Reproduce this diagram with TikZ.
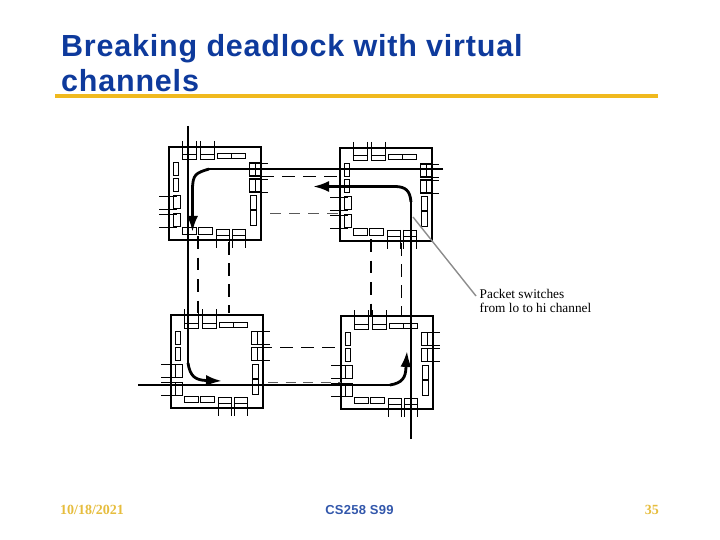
\documentclass[tikz,border=0pt]{standalone}
\usepackage{fontspec}
\setmainfont{Liberation Serif}
\setsansfont{Liberation Sans}
\usetikzlibrary{
    calc,
    arrows.meta
}
\definecolor{TitleBlue}{HTML}{0E3A9C}
\definecolor{RuleGold}{HTML}{F0B91E}
\definecolor{FootGold}{HTML}{E6BD3E}
\definecolor{LeaderGray}{HTML}{8C8C8C}

\tikzset{
    box/.style={draw=black, line width=1.05pt},
    buf/.style={draw=black, line width=1pt},
    wire/.style={draw=black, line width=0.9pt},
    channel/.style={draw=black, line width=2.3pt, line join=round},
    hop/.style={channel, line width=2.8pt, -{Latex[length=16pt,width=11pt]}},
    dashhi/.style={draw=black, line width=1.1pt, dash pattern=on 13pt off 8pt},
    dashlo/.style={draw=black!65, line width=0.9pt, dash pattern=on 11pt off 8pt},
    router/.pic={
        \path[box] (0,0) rectangle (92,93);
        % top side
        \foreach \x in {13,31}{
            \path[buf] (\x,8) rectangle (\x+14,13);
            \path[wire] (\x,-6) -- (\x,13) (\x+14,-6) -- (\x+14,13);
        }
        \path[buf] (48,7) rectangle (62,12) (62,7) rectangle (76,12);
        % right side
        \foreach \y in {16,32}{
            \path[buf] (80,\y) rectangle (92,\y+13);
            \path[wire] (86,\y) -- (86,\y+13);
            \path[wire] (80,\y) -- (99,\y) (80,\y+13) -- (99,\y+13);
        }
        \path[buf] (81,49) rectangle (87,63) (81,64) rectangle (87,79);
        % left side
        \path[buf] (4,16) rectangle (9,29) (4,32) rectangle (9,45);
        \foreach \y in {49,67}{
            \path[buf] (4,\y) rectangle (11,\y+13);
            \path[wire] (-10,\y) -- (8,\y) (-10,\y+13) -- (8,\y+13);
        }
        % bottom side
        \path[buf] (13,81) rectangle (27,87) (29,81) rectangle (43,87);
        \foreach \x in {47,63}{
            \path[wire] (\x,82) -- (\x+13,82) (\x,88) -- (\x+13,88);
            \path[wire] (\x,82) -- (\x,101) (\x+13,82) -- (\x+13,101);
        }
    }
}

\begin{document}
\begin{tikzpicture}[x=1pt, y=-1pt]

    \useasboundingbox (0,0) rectangle (720,540);

    % heading
    \node[anchor=base west, inner sep=0pt, text=TitleBlue,
          font=\sffamily\bfseries\fontsize{30.5}{35}\selectfont\addfontfeature{LetterSpace=2.6}]
        (heading) at (61,57) {Breaking deadlock with virtual};
    \node[anchor=base west, inner sep=0pt, text=TitleBlue,
          font=\sffamily\bfseries\fontsize{30.5}{35}\selectfont\addfontfeature{LetterSpace=2.6}]
        (headingb) at (61,92) {channels};
    \coordinate (ruleA) at (55,96);
    \coordinate (ruleB) at (658,96);
    \draw[RuleGold, line width=3.5pt] (ruleA) -- (ruleB);

    % routers
    \pic at (169,147) {router};
    \pic at (340,148) {router};
    \pic at (171,315) {router};
    \pic at (341,316) {router};

    % dashed links
    \draw[dashhi, line width=1pt] (261,177) -- (340,177);
    \draw[dashlo] (270,213) -- (340,213);
    \draw[dashhi, dash pattern=on 12.5pt off 9pt] (198,236) -- (198,313);
    \draw[dashhi] (229,242) -- (229,313);
    \draw[dashhi, dash pattern=on 12.5pt off 9pt] (371,239) -- (371,316);
    \draw[dashhi] (401.5,243) -- (401.5,316);
    \draw[dashhi, line width=0.9pt] (259,347) -- (341,347);
    \draw[dashlo, line width=1pt, dash pattern=on 10pt off 7.5pt] (268,382) -- (341,382);

    % straight through channels
    \coordinate (northIn) at (188,126);
    \coordinate (westIn) at (138,385);
    \coordinate (southOut) at (411,439);
    \coordinate (eastOut) at (443,169);
    \draw[channel] (northIn) -- (188,363);
    \draw[channel] (westIn) -- (390,385);
    \draw[channel] (southOut) -- (411,202);
    \draw[channel] (eastOut) -- (209,169);

    % turns with the arrow heads
    \draw[hop] (209,169) .. controls (196,173) and (192.5,174) .. (192.5,190) -- (192.5,232);
    \draw[hop] (411,202) .. controls (410,190) and (405,187) .. (396,186.5) -- (313,186.5);
    \draw[hop] (188,363) .. controls (190,376) and (195,380) .. (206,380.5) -- (222,381);
    \draw[hop] (390,385) .. controls (402,383) and (406,378) .. (406,366) -- (407,351);

    % leader and its label
    \node[anchor=north west, inner sep=0pt, align=left,
          font=\rmfamily\fontsize{13.3}{13}\selectfont] (note) at (479.5,289.5)
        {Packet switches\\[1pt]from lo to hi channel};
    \coordinate (leaderEnd) at (413,217);
    \draw[LeaderGray, line width=1.4pt] (leaderEnd) -- (476,296);

    % footer
    \node[anchor=base west, inner sep=0pt, text=FootGold,
          font=\rmfamily\bfseries\fontsize{14}{16}\selectfont] (datefoot) at (60,514) {10/18/2021};
    \node[anchor=base, inner sep=0pt, text=TitleBlue!85,
          font=\sffamily\bfseries\fontsize{13}{16}\selectfont\addfontfeature{LetterSpace=2}] (coursefoot) at (359.5,514) {CS258 S99};
    \node[anchor=base east, inner sep=0pt, text=FootGold,
          font=\rmfamily\bfseries\fontsize{14}{16}\selectfont] (pagefoot) at (659,514) {35};

\end{tikzpicture}
\end{document}
